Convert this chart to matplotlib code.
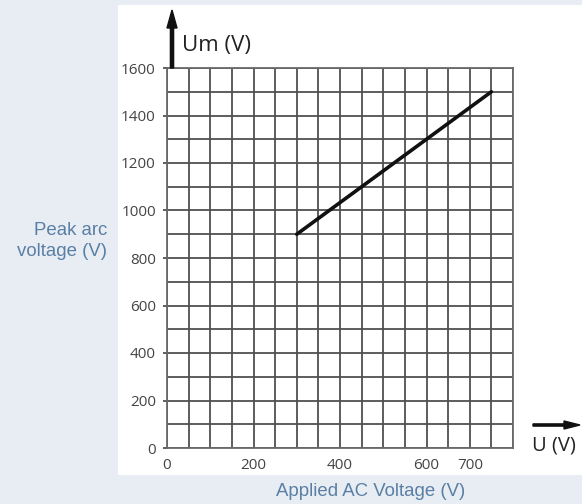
import matplotlib.pyplot as plt
from matplotlib.patches import Rectangle, FancyArrow
import numpy as np

# data
applied_v = [300, 450, 600, 750]
peak_v = [900, 1100, 1300, 1500]

x_labels = [0, 200, 400, 600, 700]
y_labels = [0, 200, 400, 600, 800, 1000, 1200, 1400, 1600]

W, H = 582, 504
fig = plt.figure(figsize=(W / 100, H / 100), dpi=100)
fig.patch.set_facecolor('#e8edf3')

# white picture panel
fig.patches.append(Rectangle((118 / W, 1 - 475 / H), (W - 118) / W, 470 / H,
                             transform=fig.transFigure, facecolor='white',
                             edgecolor='none', zorder=-1))

ax = fig.add_axes([167 / W, 1 - 448 / H, (513 - 167) / W, (448 - 68) / H])
ax.set_zorder(2)
ax.set_facecolor('white')
ax.set_xlim(0, 800)
ax.set_ylim(0, 1600)

ax.set_xticks(x_labels)
ax.set_yticks(y_labels)
ax.set_xticks(np.arange(0, 801, 50), minor=True)
ax.set_yticks(np.arange(0, 1601, 100), minor=True)
ax.grid(True, which='both', color='#505050', linewidth=1.3)
ax.set_axisbelow(True)
for s in ax.spines.values():
    s.set_color('#6a6a6a')
    s.set_linewidth(1.3)

ax.tick_params(which='minor', length=0)
ax.tick_params(axis='x', which='major', length=0, pad=7, labelsize=11, labelcolor='#444444')
ax.tick_params(axis='y', which='major', length=3, width=1.2, color='#444444', pad=5,
               labelsize=11, labelcolor='#444444')
for lab in ax.get_xticklabels() + ax.get_yticklabels():
    lab.set_family('Open Sans')

ax.plot(applied_v, peak_v, color='#111111', linewidth=2.6, solid_capstyle='round', zorder=3)

# axis arrows and their labels
fig.patches.append(FancyArrow(172 / W, 1 - 68 / H, 0, 58 / H, width=3.2 / W,
                              head_width=10 / W, head_length=18 / H,
                              length_includes_head=True, transform=fig.transFigure,
                              color='#111111', zorder=5))
fig.text(182 / W, 1 - 45 / H, 'Um (V)', family='Open Sans', fontsize=16,
         color='#222222', va='center', ha='left')

fig.patches.append(FancyArrow(533 / W, 1 - 425 / H, 47 / W, 0, width=2.2 / H,
                              head_width=8 / H, head_length=16 / W,
                              length_includes_head=True, transform=fig.transFigure,
                              color='#111111', zorder=5))
fig.text(554 / W, 1 - 445 / H, 'U (V)', family='Open Sans', fontsize=14.5,
         color='#222222', va='center', ha='center')

blue = '#5a7fa5'
fig.text(107 / W, 1 - 241 / H, 'Peak arc\nvoltage (V)', family='Liberation Sans',
         fontsize=13.4, color=blue, ha='right', va='center', linespacing=1.3)
fig.text(371 / W, 1 - 491 / H, 'Applied AC Voltage (V)', family='Liberation Sans',
         fontsize=13.4, color=blue, ha='center', va='center')

fig.savefig('out.png', dpi=100, facecolor=fig.get_facecolor())
